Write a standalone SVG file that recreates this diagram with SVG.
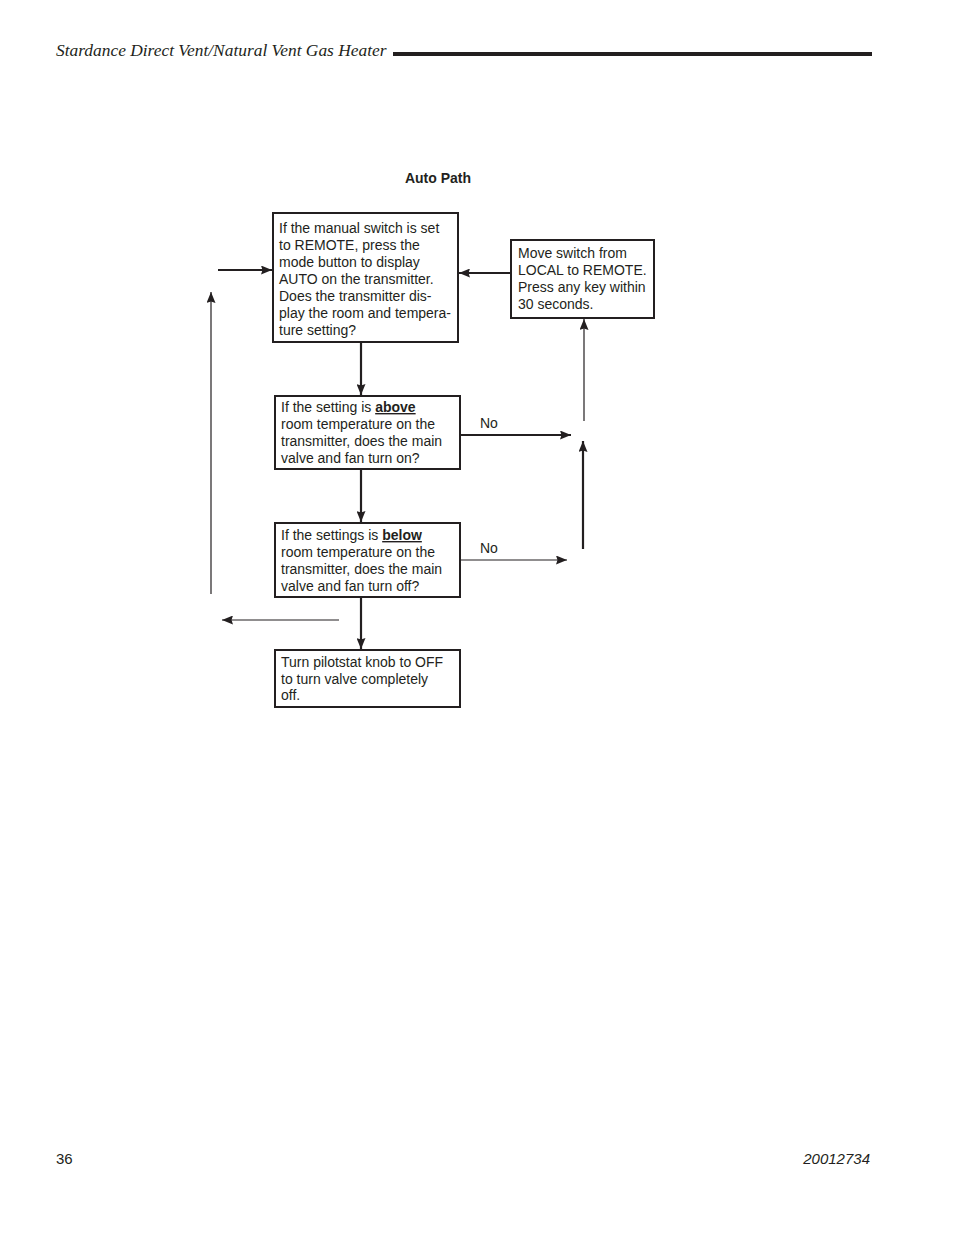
<svg xmlns="http://www.w3.org/2000/svg" width="954" height="1235" viewBox="0 0 954 1235">
<defs>
<marker id="ah" viewBox="0 0 11 9" refX="11" refY="4.5" markerWidth="11" markerHeight="9" markerUnits="userSpaceOnUse" orient="auto">
<path d="M0,0 L11,4.5 L0,9 L1.5,4.5 Z" fill="#231f20"/>
</marker>
</defs>
<style>
.box{fill:#fff;stroke:#231f20;stroke-width:2}
.t{font-family:"Liberation Sans",Arial,sans-serif;font-size:14px;fill:#231f20}
.thick{stroke:#231f20;stroke-width:2.2;fill:none}
.thin{stroke:#231f20;stroke-width:1.2;fill:none}
</style>
<rect width="954" height="1235" fill="#fff"/>
<text x="56" y="56" font-family="Liberation Serif,serif" font-style="italic" font-size="17.4" fill="#231f20">Stardance Direct Vent/Natural Vent Gas Heater</text>
<rect x="393" y="52" width="479" height="4" fill="#231f20"/>
<text x="438" y="183" class="t" font-weight="bold" text-anchor="middle" font-size="13">Auto Path</text>

<g id="connectors">
<line class="thick" x1="218" y1="270" x2="272" y2="270" marker-end="url(#ah)"/>
<line class="thin" x1="211" y1="594" x2="211" y2="292" marker-end="url(#ah)"/>
<line class="thick" x1="511" y1="273" x2="459" y2="273" marker-end="url(#ah)"/>
<line class="thick" x1="361" y1="342" x2="361" y2="395" marker-end="url(#ah)"/>
<line class="thick" x1="361" y1="469" x2="361" y2="522" marker-end="url(#ah)"/>
<line class="thick" x1="361" y1="597" x2="361" y2="649" marker-end="url(#ah)"/>
<line class="thick" x1="460" y1="435" x2="571" y2="435" marker-end="url(#ah)"/>
<line class="thin" x1="584" y1="421" x2="584" y2="319" marker-end="url(#ah)"/>
<line class="thick" x1="583" y1="549" x2="583" y2="441" marker-end="url(#ah)"/>
<line class="thin" x1="460" y1="560" x2="567" y2="560" marker-end="url(#ah)"/>
<line class="thin" x1="339" y1="620" x2="222" y2="620" marker-end="url(#ah)"/>
<text x="480" y="428" class="t">No</text>
<text x="480" y="553" class="t">No</text>
</g>

<g id="node1">
<rect class="box" x="273" y="213" width="185" height="129"/>
<text class="t" x="279" y="233">If the manual switch is set</text>
<text class="t" x="279" y="250">to REMOTE, press the</text>
<text class="t" x="279" y="267">mode button to display</text>
<text class="t" x="279" y="284">AUTO on the transmitter.</text>
<text class="t" x="279" y="301">Does the transmitter dis-</text>
<text class="t" x="279" y="318">play the room and tempera-</text>
<text class="t" x="279" y="335">ture setting?</text>
</g>

<g id="node2">
<rect class="box" x="511" y="240" width="143" height="78" stroke-width="1.5"/>
<text class="t" x="518" y="258">Move switch from</text>
<text class="t" x="518" y="275">LOCAL to REMOTE.</text>
<text class="t" x="518" y="292">Press any key within</text>
<text class="t" x="518" y="309">30 seconds.</text>
</g>

<g id="node3">
<rect class="box" x="275" y="396" width="185" height="73"/>
<text class="t" x="281" y="412">If the setting is <tspan font-weight="bold" text-decoration="underline">above</tspan></text>
<text class="t" x="281" y="429">room temperature on the</text>
<text class="t" x="281" y="446">transmitter, does the main</text>
<text class="t" x="281" y="463">valve and fan turn on?</text>
</g>

<g id="node4">
<rect class="box" x="275" y="523" width="185" height="74"/>
<text class="t" x="281" y="540">If the settings is <tspan font-weight="bold" text-decoration="underline">below</tspan></text>
<text class="t" x="281" y="557">room temperature on the</text>
<text class="t" x="281" y="574">transmitter, does the main</text>
<text class="t" x="281" y="591">valve and fan turn off?</text>
</g>

<g id="node5">
<rect class="box" x="275" y="650" width="185" height="57"/>
<text class="t" x="281" y="667">Turn pilotstat knob to OFF</text>
<text class="t" x="281" y="684">to turn valve completely</text>
<text class="t" x="281" y="700">off.</text>
</g>

<text x="56" y="1164" font-family="Liberation Sans,Arial,sans-serif" font-size="15" fill="#231f20">36</text>
<text x="870" y="1164" font-family="Liberation Sans,Arial,sans-serif" font-style="italic" font-size="15" fill="#231f20" text-anchor="end">20012734</text>
</svg>
